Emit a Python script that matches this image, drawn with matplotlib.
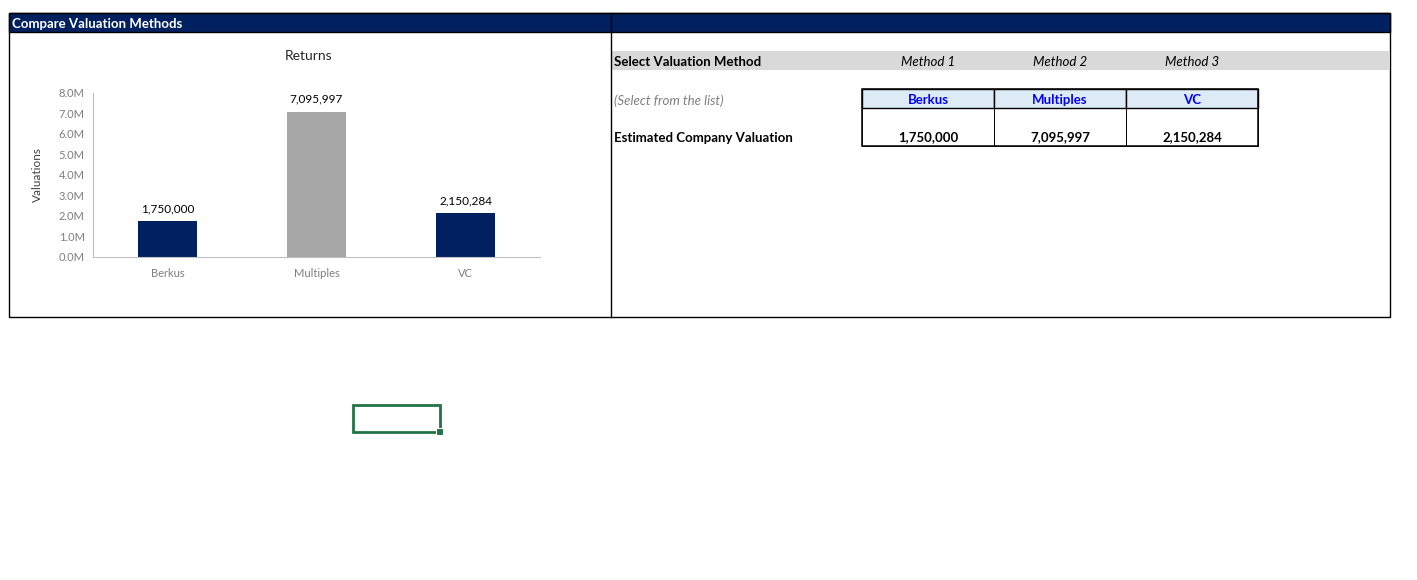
import matplotlib
matplotlib.use("Agg")
from matplotlib import pyplot as plt
from matplotlib.patches import Rectangle
from matplotlib.ticker import FuncFormatter

plt.rcParams['font.family'] = ['Lato', 'DejaVu Sans']

# chart data
methods = ['Berkus', 'Multiples', 'VC']
valuations = [1750000, 7095997, 2150284]
bar_colors = ['#002060', '#A6A6A6', '#002060']
method_slots = ['Method 1', 'Method 2', 'Method 3']

W, H = 1417, 580
NAVY = '#002060'

fig = plt.figure(figsize=(W / 100, H / 100), dpi=100)

# background axes in pixel units (y down), used for the sheet layout
bg = fig.add_axes([0, 0, 1, 1])
bg.set_xlim(0, W)
bg.set_ylim(H, 0)
bg.axis('off')

def box(x0, y0, x1, y1, **kw):
    bg.add_patch(Rectangle((x0, y0), x1 - x0, y1 - y0, **kw))

# header band + outer frame
box(9, 13, 1390, 32, facecolor=NAVY, edgecolor='black', lw=1)
box(9, 13, 1390, 317, facecolor='none', edgecolor='black', lw=1)
bg.plot([611, 611], [13, 317], color='black', lw=1)
bg.text(12, 24, 'Compare Valuation Methods', color='white', fontsize=9.5,
        fontweight='bold', va='center', ha='left')

# right panel
box(612, 51, 1390, 70, facecolor='#D9D9D9', edgecolor='none')
bg.text(614, 62.5, 'Select Valuation Method', fontsize=9.5, fontweight='bold',
        va='center', ha='left')
col_centers = [928, 1060, 1192]
for cx, m in zip(col_centers, method_slots):
    bg.text(cx, 62.5, m, fontsize=9.5, style='italic', va='center', ha='center')
bg.text(614, 100.5, '(Select from the list)', fontsize=9.5, style='italic',
        color='#808080', va='center', ha='left')
bg.text(614, 138, 'Estimated Company Valuation', fontsize=9.5, fontweight='bold',
        va='center', ha='left')

# selection table
col_edges = [862, 994, 1126, 1258]
for i, (name, val) in enumerate(zip(methods, valuations)):
    x0, x1 = col_edges[i], col_edges[i + 1]
    box(x0, 89, x1, 108, facecolor='#DDEBF7', edgecolor='black', lw=1)
    box(x0, 108, x1, 146, facecolor='none', edgecolor='black', lw=0.6)
    bg.text((x0 + x1) / 2, 100.5, name, color='#0000FF', fontsize=9.5,
            fontweight='bold', va='center', ha='center')
    bg.text((x0 + x1) / 2, 137.5, f'{val:,}', fontsize=9.5, fontweight='bold',
            va='center', ha='center')
box(862, 89, 1258, 146, facecolor='none', edgecolor='black', lw=1.1)

# selected cell
box(352.5, 405, 440, 432, facecolor='none', edgecolor='#217346', lw=2)
box(436, 428, 442.5, 434.5, facecolor='#217346', edgecolor='white', lw=0.8)

# chart
left, right, top, bottom = 93, 540, 93, 257
ax = fig.add_axes([left / W, 1 - bottom / H, (right - left) / W, (bottom - top) / H])
ax.bar(methods, valuations, width=0.4, color=bar_colors)
ax.set_ylim(0, 8000000)
ax.set_xlim(-0.5, 2.5)
ax.set_yticks(range(0, 8000001, 1000000))
ax.yaxis.set_major_formatter(FuncFormatter(lambda v, p: f'{v / 1e6:.1f}M'))
for i, v in enumerate(valuations):
    ax.annotate(f'{v:,}', (i, v), xytext=(0, 5), textcoords='offset points',
                ha='center', va='bottom', fontsize=8.5)
ax.tick_params(axis='y', length=0, labelsize=8, labelcolor='#7F7F7F', pad=6)
ax.tick_params(axis='x', length=0, labelsize=8, labelcolor='#7F7F7F', pad=8)
for s in ['top', 'right']:
    ax.spines[s].set_visible(False)
ax.spines['left'].set_color('#BFBFBF')
ax.spines['bottom'].set_color('#BFBFBF')
ax.patch.set_alpha(0)
ax.set_ylabel('Valuations', fontsize=8.5, labelpad=11, color='#404040')
bg.text(309, 56.5, 'Returns', fontsize=10, ha='center', va='center', color='#262626')

fig.savefig('out.png', dpi=100)
